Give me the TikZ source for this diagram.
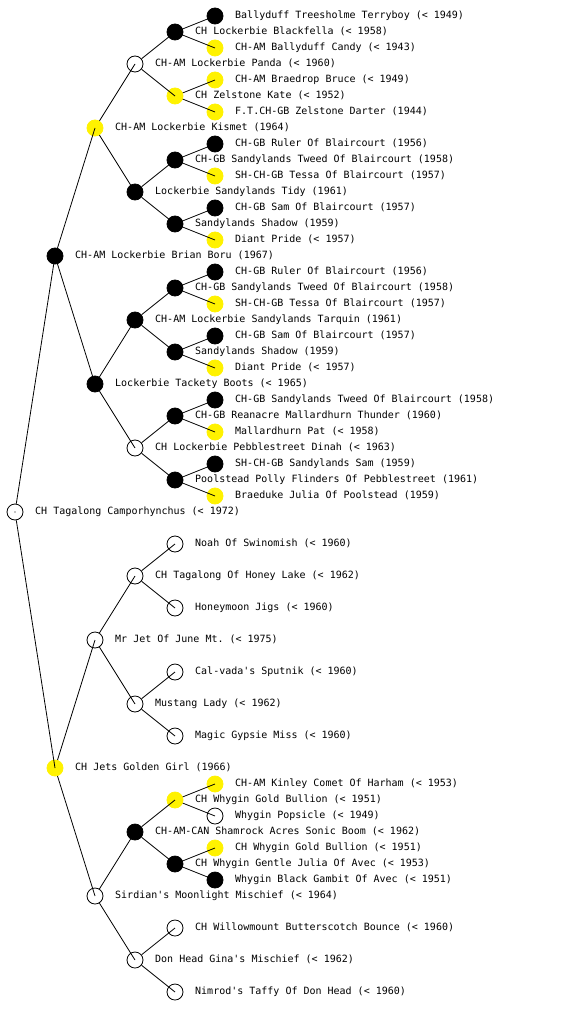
\documentclass[tikz,border=0pt]{standalone}
\usepackage{fontspec}
\setmonofont{DejaVu Sans Mono}
\begin{document}
\begin{tikzpicture}[x=1pt,y=-1pt,
  dot/.style={circle,minimum size=16pt,inner sep=0pt,line width=0.8pt},
  wn/.style={dot,draw=black,fill=white},
  bn/.style={dot,draw=black,fill=black},
  yn/.style={dot,draw=yellow,fill=yellow},
  lbl/.style={anchor=mid west,inner sep=0pt,font=\ttfamily\fontsize{10pt}{12pt}\selectfont},
  link/.style={draw=black,line width=0.8pt}]
\useasboundingbox (0,0) rectangle (560,1024);
% root
\node[wn] (r) at (15,512) {}; \node[lbl] (rl) at (35,512) {CH Tagalong Camporhynchus (< 1972)};
% gen 1
\node[bn] (s) at (55,256) {}; \node[lbl] (sl) at (75,256) {CH-AM Lockerbie Brian Boru (1967)};
\node[yn] (d) at (55,768) {}; \node[lbl] (dl) at (75,768) {CH Jets Golden Girl (1966)};
% gen 2
\node[yn] (a1) at (95,128) {}; \node[lbl] (a1l) at (115,128) {CH-AM Lockerbie Kismet (1964)};
\node[bn] (a2) at (95,384) {}; \node[lbl] (a2l) at (115,384) {Lockerbie Tackety Boots (< 1965)};
\node[wn] (a3) at (95,640) {}; \node[lbl] (a3l) at (115,640) {Mr Jet Of June Mt. (< 1975)};
\node[wn] (a4) at (95,896) {}; \node[lbl] (a4l) at (115,896) {Sirdian's Moonlight Mischief (< 1964)};
% gen 3
\node[wn] (b1) at (135,64) {}; \node[lbl] (b1l) at (155,64) {CH-AM Lockerbie Panda (< 1960)};
\node[bn] (b2) at (135,192) {}; \node[lbl] (b2l) at (155,192) {Lockerbie Sandylands Tidy (1961)};
\node[bn] (b3) at (135,320) {}; \node[lbl] (b3l) at (155,320) {CH-AM Lockerbie Sandylands Tarquin (1961)};
\node[wn] (b4) at (135,448) {}; \node[lbl] (b4l) at (155,448) {CH Lockerbie Pebblestreet Dinah (< 1963)};
\node[wn] (b5) at (135,576) {}; \node[lbl] (b5l) at (155,576) {CH Tagalong Of Honey Lake (< 1962)};
\node[wn] (b6) at (135,704) {}; \node[lbl] (b6l) at (155,704) {Mustang Lady (< 1962)};
\node[bn] (b7) at (135,832) {}; \node[lbl] (b7l) at (155,832) {CH-AM-CAN Shamrock Acres Sonic Boom (< 1962)};
\node[wn] (b8) at (135,960) {}; \node[lbl] (b8l) at (155,960) {Don Head Gina's Mischief (< 1962)};
% gen 4
\node[bn] (c1) at (175,32) {}; \node[lbl] (c1l) at (195,32) {CH Lockerbie Blackfella (< 1958)};
\node[yn] (c2) at (175,96) {}; \node[lbl] (c2l) at (195,96) {CH Zelstone Kate (< 1952)};
\node[bn] (c3) at (175,160) {}; \node[lbl] (c3l) at (195,160) {CH-GB Sandylands Tweed Of Blaircourt (1958)};
\node[bn] (c4) at (175,224) {}; \node[lbl] (c4l) at (195,224) {Sandylands Shadow (1959)};
\node[bn] (c5) at (175,288) {}; \node[lbl] (c5l) at (195,288) {CH-GB Sandylands Tweed Of Blaircourt (1958)};
\node[bn] (c6) at (175,352) {}; \node[lbl] (c6l) at (195,352) {Sandylands Shadow (1959)};
\node[bn] (c7) at (175,416) {}; \node[lbl] (c7l) at (195,416) {CH-GB Reanacre Mallardhurn Thunder (1960)};
\node[bn] (c8) at (175,480) {}; \node[lbl] (c8l) at (195,480) {Poolstead Polly Flinders Of Pebblestreet (1961)};
\node[wn] (c9) at (175,544) {}; \node[lbl] (c9l) at (195,544) {Noah Of Swinomish (< 1960)};
\node[wn] (c10) at (175,608) {}; \node[lbl] (c10l) at (195,608) {Honeymoon Jigs (< 1960)};
\node[wn] (c11) at (175,672) {}; \node[lbl] (c11l) at (195,672) {Cal-vada's Sputnik (< 1960)};
\node[wn] (c12) at (175,736) {}; \node[lbl] (c12l) at (195,736) {Magic Gypsie Miss (< 1960)};
\node[yn] (c13) at (175,800) {}; \node[lbl] (c13l) at (195,800) {CH Whygin Gold Bullion (< 1951)};
\node[bn] (c14) at (175,864) {}; \node[lbl] (c14l) at (195,864) {CH Whygin Gentle Julia Of Avec (< 1953)};
\node[wn] (c15) at (175,928) {}; \node[lbl] (c15l) at (195,928) {CH Willowmount Butterscotch Bounce (< 1960)};
\node[wn] (c16) at (175,992) {}; \node[lbl] (c16l) at (195,992) {Nimrod's Taffy Of Don Head (< 1960)};
% gen 5
\node[bn] (e1) at (215,16) {}; \node[lbl] (e1l) at (235,16) {Ballyduff Treesholme Terryboy (< 1949)};
\node[yn] (e2) at (215,48) {}; \node[lbl] (e2l) at (235,48) {CH-AM Ballyduff Candy (< 1943)};
\node[yn] (e3) at (215,80) {}; \node[lbl] (e3l) at (235,80) {CH-AM Braedrop Bruce (< 1949)};
\node[yn] (e4) at (215,112) {}; \node[lbl] (e4l) at (235,112) {F.T.CH-GB Zelstone Darter (1944)};
\node[bn] (e5) at (215,144) {}; \node[lbl] (e5l) at (235,144) {CH-GB Ruler Of Blaircourt (1956)};
\node[yn] (e6) at (215,176) {}; \node[lbl] (e6l) at (235,176) {SH-CH-GB Tessa Of Blaircourt (1957)};
\node[bn] (e7) at (215,208) {}; \node[lbl] (e7l) at (235,208) {CH-GB Sam Of Blaircourt (1957)};
\node[yn] (e8) at (215,240) {}; \node[lbl] (e8l) at (235,240) {Diant Pride (< 1957)};
\node[bn] (e9) at (215,272) {}; \node[lbl] (e9l) at (235,272) {CH-GB Ruler Of Blaircourt (1956)};
\node[yn] (e10) at (215,304) {}; \node[lbl] (e10l) at (235,304) {SH-CH-GB Tessa Of Blaircourt (1957)};
\node[bn] (e11) at (215,336) {}; \node[lbl] (e11l) at (235,336) {CH-GB Sam Of Blaircourt (1957)};
\node[yn] (e12) at (215,368) {}; \node[lbl] (e12l) at (235,368) {Diant Pride (< 1957)};
\node[bn] (e13) at (215,400) {}; \node[lbl] (e13l) at (235,400) {CH-GB Sandylands Tweed Of Blaircourt (1958)};
\node[yn] (e14) at (215,432) {}; \node[lbl] (e14l) at (235,432) {Mallardhurn Pat (< 1958)};
\node[bn] (e15) at (215,464) {}; \node[lbl] (e15l) at (235,464) {SH-CH-GB Sandylands Sam (1959)};
\node[yn] (e16) at (215,496) {}; \node[lbl] (e16l) at (235,496) {Braeduke Julia Of Poolstead (1959)};
\node[yn] (f1) at (215,784) {}; \node[lbl] (f1l) at (235,784) {CH-AM Kinley Comet Of Harham (< 1953)};
\node[wn] (f2) at (215,816) {}; \node[lbl] (f2l) at (235,816) {Whygin Popsicle (< 1949)};
\node[yn] (f3) at (215,848) {}; \node[lbl] (f3l) at (235,848) {CH Whygin Gold Bullion (< 1951)};
\node[bn] (f4) at (215,880) {}; \node[lbl] (f4l) at (235,880) {Whygin Black Gambit Of Avec (< 1951)};
% connectors: from parent's rim to child's centre
\fill (r.center) circle (0.6pt);
\path[link] (r) -- (s.center) (r) -- (d.center);
\path[link] (s) -- (a1.center) (s) -- (a2.center) (d) -- (a3.center) (d) -- (a4.center);
\foreach \p/\x/\y in {a1/b1/b2,a2/b3/b4,a3/b5/b6,a4/b7/b8,
  b1/c1/c2,b2/c3/c4,b3/c5/c6,b4/c7/c8,b5/c9/c10,b6/c11/c12,b7/c13/c14,b8/c15/c16,
  c1/e1/e2,c2/e3/e4,c3/e5/e6,c4/e7/e8,c5/e9/e10,c6/e11/e12,c7/e13/e14,c8/e15/e16,
  c13/f1/f2,c14/f3/f4}
  {\path[link] (\p) -- (\x.center) (\p) -- (\y.center);}
\end{tikzpicture}
\end{document}
